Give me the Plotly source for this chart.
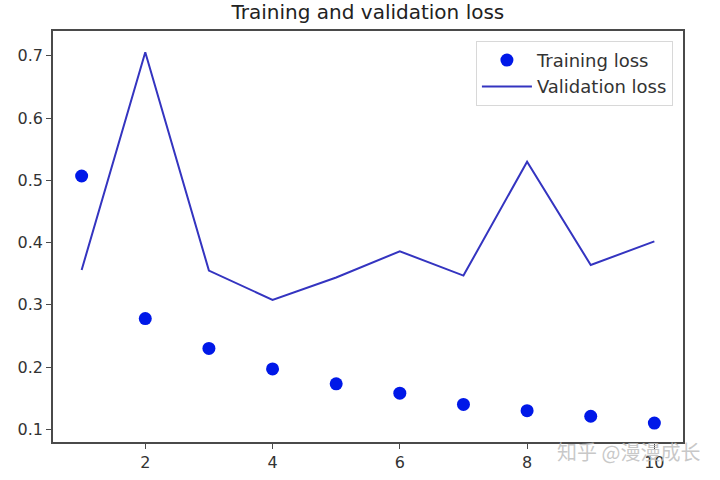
import plotly.graph_objects as go

epochs = [1, 2, 3, 4, 5, 6, 7, 8, 9, 10]
training_loss = [0.507, 0.278, 0.230, 0.197, 0.173, 0.158, 0.140, 0.130, 0.121, 0.110]
validation_loss = [0.356, 0.706, 0.355, 0.308, 0.344, 0.386, 0.347, 0.530, 0.364, 0.402]
x_ticks = [2, 4, 6, 8, 10]
y_ticks = [0.1, 0.2, 0.3, 0.4, 0.5, 0.6, 0.7]

fig = go.Figure()
fig.add_trace(go.Scatter(
    x=epochs, y=training_loss, mode="markers", name="Training loss",
    marker=dict(color="#0018e8", size=13, line=dict(width=0)),
))
fig.add_trace(go.Scatter(
    x=epochs, y=validation_loss, mode="lines", name="Validation loss",
    line=dict(color="#3434c0", width=2),
))

axis_common = dict(
    showgrid=False, zeroline=False, showline=True, mirror=True,
    linecolor="#4a4a4a", linewidth=1.5, ticks="outside", ticklen=5,
    tickwidth=1.2, tickcolor="#4a4a4a", automargin=False,
    tickfont=dict(family="DejaVu Sans", size=16, color="#333333"),
)

fig.update_layout(
    width=720, height=480,
    margin=dict(l=53, r=37, t=31, b=38, autoexpand=False),
    paper_bgcolor="white", plot_bgcolor="white",
    title=dict(text="Training and validation loss", x=0.511, xanchor="center",
               y=0.975, yanchor="middle", automargin=False,
               font=dict(family="DejaVu Sans", size=20, color="#222222")),
    xaxis=dict(range=[0.55, 10.45], tickvals=x_ticks, **axis_common),
    yaxis=dict(range=[0.0796, 0.740], tickvals=y_ticks,
               tickformat=".1f", **axis_common),
    legend=dict(x=0.984, y=0.976, xanchor="right", yanchor="top",
                bgcolor="white", bordercolor="#d8d8d8", borderwidth=1,
                font=dict(family="DejaVu Sans", size=18, color="#333333"),
                itemwidth=50, tracegroupgap=0),
    showlegend=True,
)

fig.add_annotation(
    text="知乎 @漫漫成长", xref="paper", yref="paper",
    x=0.914, y=-0.022, showarrow=False, xanchor="center", yanchor="middle",
    font=dict(family="Noto Sans CJK SC", size=20, color="rgba(190,190,190,0.85)"),
)

fig.write_html("out.html")
